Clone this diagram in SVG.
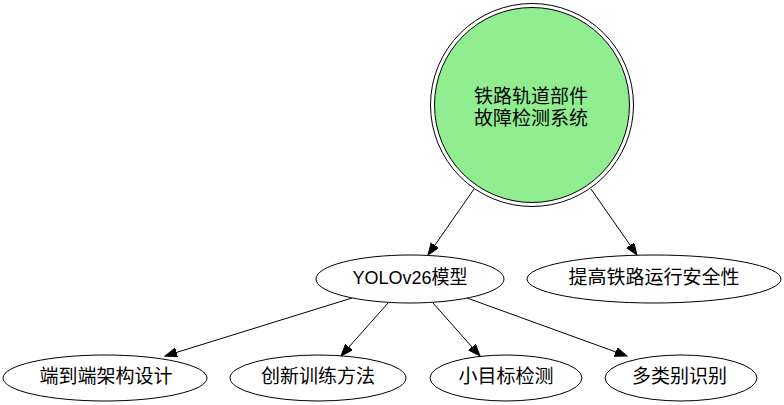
<svg xmlns="http://www.w3.org/2000/svg" width="784" height="405" viewBox="0 0 784 405">
<style>
.n ellipse{fill:#ffffff;stroke:#000000;stroke-width:1}
text{font-family:"Liberation Sans","Noto Sans CJK SC",sans-serif;font-size:19px;fill:#000000;text-anchor:middle}
.e line{stroke:#000000;stroke-width:1;marker-end:url(#ah)}
</style>
<defs>
<marker id="ah" markerUnits="userSpaceOnUse" markerWidth="13" markerHeight="10" refX="12" refY="4.5" orient="auto" viewBox="0 0 13 10">
<path d="M0,0 L12,4.5 L0,9 z" fill="#000000" stroke="#000000" stroke-width="1"/>
</marker>
</defs>
<rect width="784" height="405" fill="#ffffff"/>
<g id="edges" class="e">
<line x1="474" y1="189" x2="428" y2="255"/>
<line x1="591" y1="189" x2="637" y2="255"/>
<line x1="352" y1="298" x2="165" y2="356"/>
<line x1="388" y1="303" x2="341" y2="356"/>
<line x1="433" y1="303" x2="480" y2="356"/>
<line x1="467" y1="298" x2="627" y2="356"/>
</g>
<g id="root" class="n">
<circle cx="532" cy="105" r="101.5" fill="none" stroke="#000000" stroke-width="1"/>
<circle cx="532" cy="105" r="97.5" fill="#90ee90" stroke="#000000" stroke-width="1"/>
<text x="531" y="103">铁路轨道部件</text>
<text x="531" y="124.5">故障检测系统</text>
</g>
<g id="yolo" class="n">
<ellipse cx="410" cy="279" rx="94" ry="24"/>
<text x="410" y="284" textLength="115" lengthAdjust="spacingAndGlyphs">YOLOv26模型</text>
</g>
<g id="safety" class="n">
<ellipse cx="654" cy="279" rx="127" ry="24"/>
<text x="654" y="284">提高铁路运行安全性</text>
</g>
<g id="e2e" class="n">
<ellipse cx="105" cy="378" rx="102" ry="23"/>
<text x="106" y="383">端到端架构设计</text>
</g>
<g id="train" class="n">
<ellipse cx="318" cy="378" rx="88" ry="23"/>
<text x="318" y="383">创新训练方法</text>
</g>
<g id="small" class="n">
<ellipse cx="506" cy="378" rx="76" ry="23"/>
<text x="506" y="383">小目标检测</text>
</g>
<g id="multi" class="n">
<ellipse cx="681" cy="378" rx="76" ry="23"/>
<text x="679.5" y="383">多类别识别</text>
</g>
</svg>
